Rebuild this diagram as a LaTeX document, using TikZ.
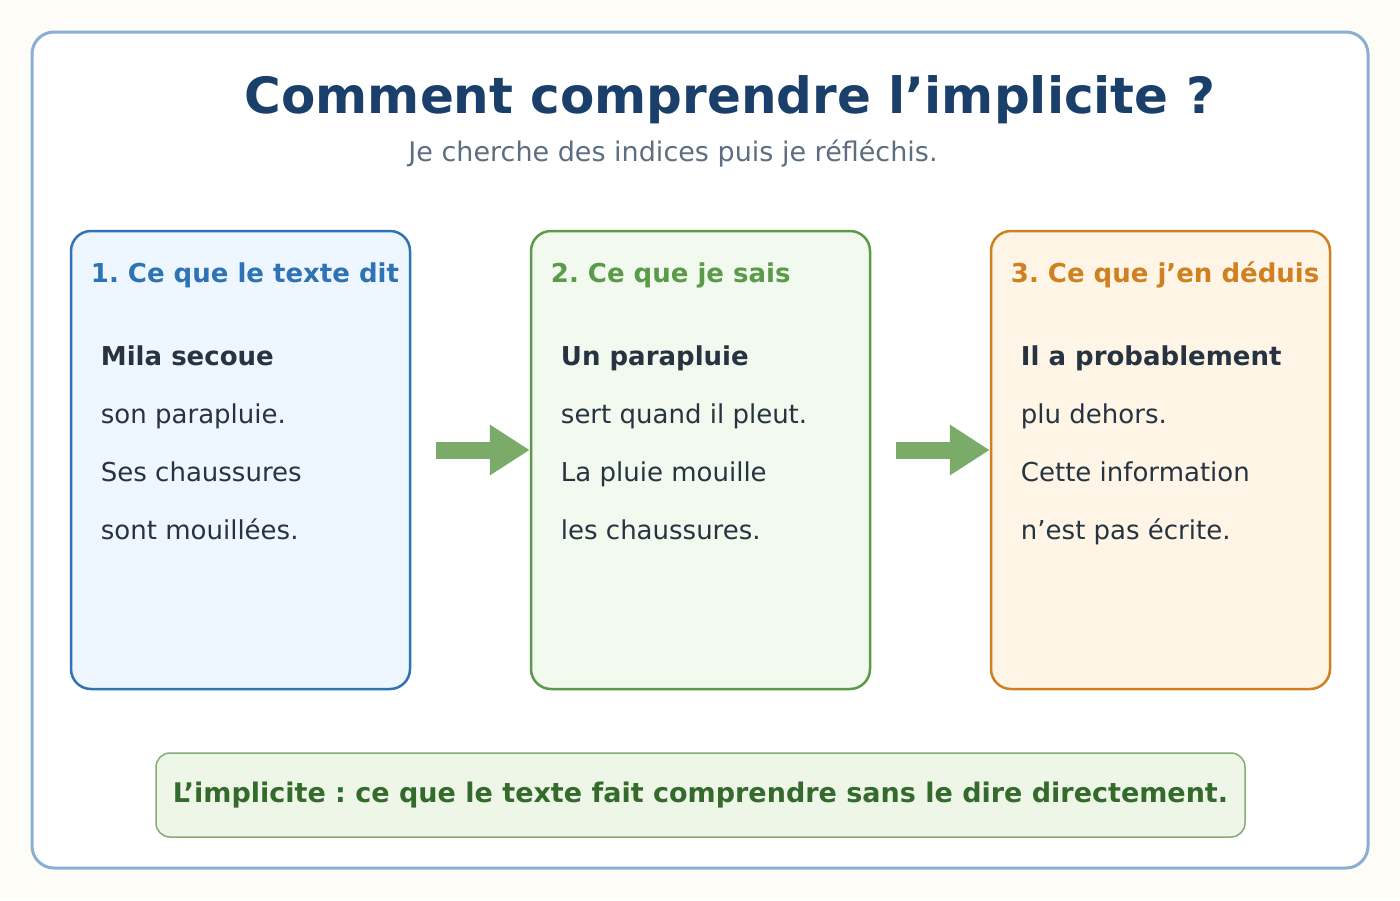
\documentclass[tikz,border=0pt]{standalone}
\usepackage{fontspec}
\setmainfont{DejaVu Sans}
\usepackage{xcolor}
\usetikzlibrary{arrows.meta,positioning}
\frenchspacing

\definecolor{pagebg}{HTML}{FDFCF7}
\definecolor{framec}{HTML}{8AAFD3}
\definecolor{titlec}{HTML}{1B3F6B}
\definecolor{subc}{HTML}{5C6E80}
\definecolor{ink}{HTML}{263441}
\definecolor{blueD}{HTML}{2E74B5}
\definecolor{blueL}{HTML}{EEF6FF}
\definecolor{greenD}{HTML}{5B9A48}
\definecolor{greenL}{HTML}{F2F9EE}
\definecolor{orangeD}{HTML}{D08020}
\definecolor{orangeL}{HTML}{FEF5E6}
\definecolor{arrowc}{HTML}{7AAB69}
\definecolor{noteD}{HTML}{86AD76}
\definecolor{noteL}{HTML}{EEF6E7}
\definecolor{notetxt}{HTML}{346B2C}

\begin{document}
\begin{tikzpicture}[x=1pt, y=-1pt,
  card/.style={draw, line width=2.5pt, rounded corners=20pt, minimum width=339pt, minimum height=458pt, inner sep=0pt},
  headtxt/.style={anchor=base west, inner sep=0pt, font=\fontsize{26}{30}\selectfont\bfseries},
  bodytxt/.style={anchor=base west, inner sep=0pt, font=\fontsize{26}{30}\selectfont, text=ink},
  bigarrow/.style={draw=arrowc, line width=17pt, -{Triangle[length=40pt,width=48pt,fill=arrowc]}}]
\useasboundingbox[fill=pagebg] (0,0) rectangle (1400,900);

% Outer frame and title
\node[draw=framec, fill=white, line width=3pt, rounded corners=22pt, minimum width=1336pt, minimum height=836pt] (frame) at (700,450) {};
\node[anchor=base, inner sep=0pt, text=titlec, font=\fontsize{50}{58}\selectfont\bfseries] (title) at (730,113) {Comment comprendre l’implicite ?};
\node[anchor=base, inner sep=0pt, text=subc, font=\fontsize{27}{31}\selectfont] (subtitle) at (673,161) {Je cherche des indices puis je réfléchis.};

% The three cards
\foreach \i/\cx/\dk/\lt/\head in {1/240.5/blueD/blueL/{1. Ce que le texte dit}, 2/700.5/greenD/greenL/{2. Ce que je sais}, 3/1160.5/orangeD/orangeL/{3. Ce que j’en déduis}} {
  \node[card, draw=\dk, fill=\lt] (box\i) at (\cx,460) {};
  \node[headtxt, text=\dk] (head\i) at ([xshift=21pt,yshift=-53pt]box\i.north west) {\head};
}

% Card texts
\foreach \i/\a/\b/\c/\d in {1/Mila secoue/son parapluie./Ses chaussures/sont mouillées.,
                            2/Un parapluie/sert quand il pleut./La pluie mouille/les chaussures.,
                            3/Il a probablement/plu dehors./Cette information/n’est pas écrite.} {
  \node[bodytxt, font=\fontsize{26}{30}\selectfont\bfseries] (t\i-1) at ([xshift=31pt,yshift=-136pt]box\i.north west) {\a};
  \node[bodytxt] (t\i-2) at ([xshift=31pt,yshift=-194pt]box\i.north west) {\b};
  \node[bodytxt] (t\i-3) at ([xshift=31pt,yshift=-252pt]box\i.north west) {\c};
  \node[bodytxt] (t\i-4) at ([xshift=31pt,yshift=-310pt]box\i.north west) {\d};
}

% Arrows between cards
\draw[bigarrow] ([xshift=25pt,yshift=10pt]box1.east) -- ([yshift=10pt]box2.west);
\draw[bigarrow] ([xshift=25pt,yshift=10pt]box2.east) -- ([yshift=10pt]box3.west);

% Definition at the bottom
\node[draw=noteD, fill=noteL, line width=1.5pt, rounded corners=14pt, minimum width=1089pt, minimum height=84pt,
      text=notetxt, font=\fontsize{27}{31}\selectfont\bfseries] (note) at (700.5,795)
      {L’implicite : ce que le texte fait comprendre sans le dire directement.};
\end{tikzpicture}
\end{document}
